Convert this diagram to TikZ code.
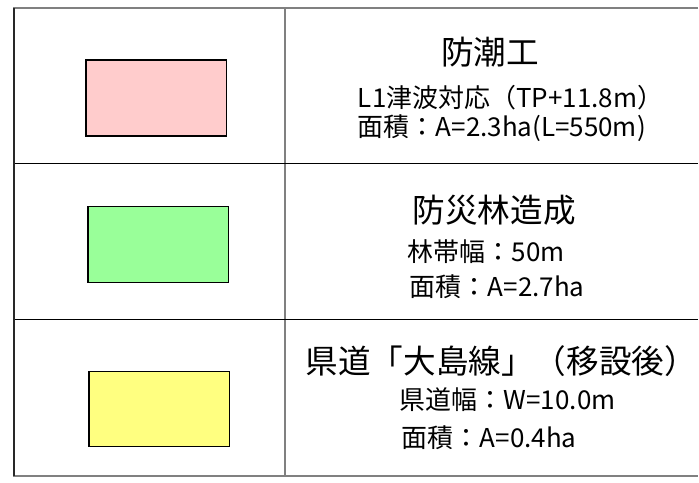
\documentclass[tikz,border=0pt]{standalone}
\usepackage{fontspec}
\setmainfont{Noto Sans CJK JP}
\tikzset{
	table line/.style={color={rgb, 255:red, 128; green, 128; blue, 128 }, line width=1.5pt},
	row line/.style={color={rgb, 255:red, 0; green, 0; blue, 0 }, line width=1pt},
	legend box/.style={draw={rgb, 255:red, 0; green, 0; blue, 0 }, line width=1.1pt},
	title text/.style={font=\fontsize{24.5}{28}\selectfont, inner sep=0pt},
	item text/.style={font=\fontsize{19.5}{23}\selectfont, inner sep=0pt, anchor=west}}
\tikzset{every picture/.style={line width=0.75pt}}
\begin{document}
\begin{tikzpicture}[x=0.75pt,y=0.75pt,yscale=-1,xscale=1]
	\path (0,0) rectangle (699,483); %set diagram size to the reference

	%Shape: Table frame
	\draw  [table line] (699,8) -- (14,8) -- (14,477) -- (699,477) ;
	\draw  [table line] (285,8) -- (285,477) ;
	%Shape: Row lines
	\draw  [row line] (14,164) -- (699,164) ;
	\draw  [row line] (14,320) -- (699,320) ;
	\draw  [color={rgb, 255:red, 40; green, 40; blue, 40 }, line width=0.9pt] (14,8) -- (14,477) ;

	%Shape: Rectangle [pink]
	\draw  [legend box][fill={rgb, 255:red, 255; green, 204; blue, 204 }  ,fill opacity=1 ] (86,60) -- (227,60) -- (227,136) -- (86,136) -- cycle ;
	%Shape: Rectangle [green]
	\draw  [legend box][fill={rgb, 255:red, 153; green, 255; blue, 153 }  ,fill opacity=1 ] (88,207) -- (229,207) -- (229,283) -- (88,283) -- cycle ;
	%Shape: Rectangle [yellow]
	\draw  [legend box][fill={rgb, 255:red, 255; green, 255; blue, 128 }  ,fill opacity=1 ] (89,372) -- (230,372) -- (230,447) -- (89,447) -- cycle ;

	% Text Node
	\draw (491,52) node [title text] (seawallTitle) {防潮工};
	% Text Node
	\draw (358,98) node [item text] (seawallLevel) {L1津波対応（TP+11.8m）};
	% Text Node
	\draw (358,128) node [item text] (seawallArea) {面積：A=2.3ha(L=550m)};
	% Text Node
	\draw (495,210) node [title text] (forestTitle) {防災林造成};
	% Text Node
	\draw (408,252) node [item text] (forestWidth) {林帯幅：50m};
	% Text Node
	\draw (410,287) node [item text] (forestArea) {面積：A=2.7ha};
	% Text Node
	\draw (502,362) node [title text] (roadTitle) {県道「大島線」（移設後）};
	% Text Node
	\draw (400,400) node [item text] (roadWidth) {県道幅：W=10.0m};
	% Text Node
	\draw (402,438) node [item text] (roadArea) {面積：A=0.4ha};

\end{tikzpicture}
\end{document}
